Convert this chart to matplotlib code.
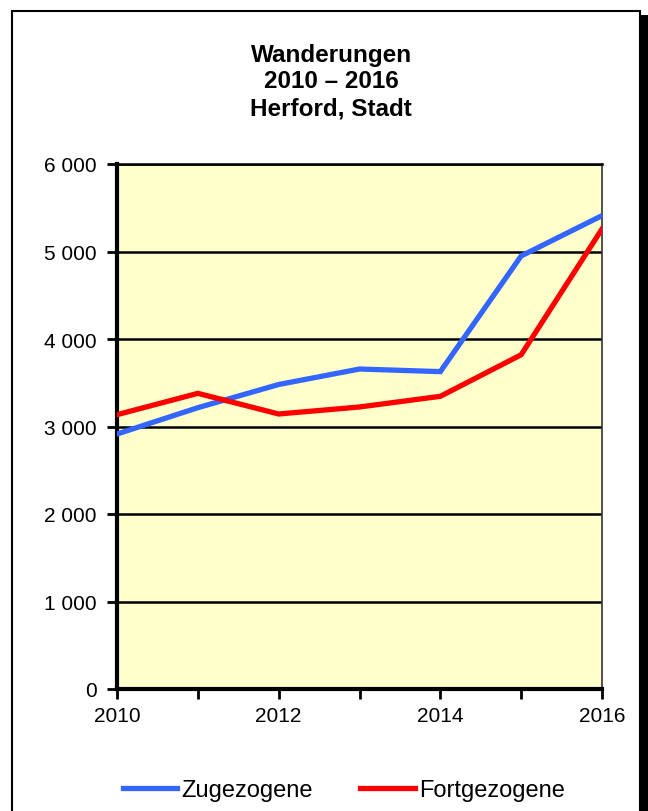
import matplotlib
matplotlib.use("Agg")
import matplotlib.pyplot as plt
from matplotlib.patches import Rectangle
from matplotlib.ticker import FuncFormatter, MultipleLocator

plt.rcParams['font.family'] = ['Liberation Sans', 'DejaVu Sans']

years = [2010, 2011, 2012, 2013, 2014, 2015, 2016]
zugezogene = [2914, 3215, 3480, 3657, 3627, 4949, 5410]
fortgezogene = [3135, 3379, 3143, 3223, 3345, 3820, 5257]

title_lines = ["Wanderungen", "2010 \u2013 2016", "Herford, Stadt"]
series_names = ["Zugezogene", "Fortgezogene"]
series_colors = ["#3366FF", "#FF0000"]


def main():
    fig = plt.figure(figsize=(6.48, 8.12), dpi=100)

    # outer frame with shadow (behind the axes)
    fig.patches.append(Rectangle((640 / 648, -0.1), 8 / 648, 1.1 - 16 / 812,
                                 transform=fig.transFigure, facecolor='black',
                                 edgecolor='none', zorder=-2))
    fig.patches.append(Rectangle((12 / 648, -0.1), 628 / 648, 1.1 - 12 / 812,
                                 transform=fig.transFigure, facecolor='white',
                                 edgecolor='black', linewidth=1.5, zorder=-1))

    ax = fig.add_axes([117 / 648, 1 - 690 / 812, 485 / 648, 525 / 812])
    ax.set_facecolor('#FFFFCC')

    ax.plot(years, zugezogene, color=series_colors[0], lw=3.8,
            label=series_names[0], solid_joinstyle='miter', zorder=3)
    ax.plot(years, fortgezogene, color=series_colors[1], lw=3.8,
            label=series_names[1], solid_joinstyle='miter', zorder=3)

    ax.set_xlim(years[0], years[-1])
    ax.set_ylim(0, 6000)
    ax.xaxis.set_major_locator(MultipleLocator(1))
    ax.yaxis.set_major_locator(MultipleLocator(1000))
    ax.xaxis.set_major_formatter(FuncFormatter(
        lambda v, p: str(int(v)) if int(round(v)) % 2 == 0 else ''))
    ax.yaxis.set_major_formatter(FuncFormatter(
        lambda v, p: format(int(v), ',').replace(',', ' ')))
    ax.tick_params(axis='both', labelsize=15, width=2, length=7,
                   direction='out', color='black')
    ax.tick_params(axis='y', pad=7.5)
    ax.tick_params(axis='x', pad=5)

    ax.grid(axis='y', color='black', lw=1.8, zorder=1)
    ax.set_axisbelow(True)
    for s in ['left', 'bottom']:
        ax.spines[s].set_linewidth(3)
        ax.spines[s].set_color('black')
    ax.spines['top'].set_linewidth(1.8)
    ax.spines['right'].set_linewidth(1.2)
    ax.spines['right'].set_color('#333333')

    fig.text(0.511, 1 - 82 / 812, "\n".join(title_lines), ha='center',
             va='center', fontsize=17.5, fontweight='bold', linespacing=1.2)

    fig.legend(loc='center', bbox_to_anchor=(344 / 648, 1 - 791 / 812), ncol=2,
               frameon=False, fontsize=17, handlelength=2.3,
               handletextpad=0.2, columnspacing=2.0, borderaxespad=0)

    fig.savefig('out.png', dpi=100)


if __name__ == '__main__':
    main()
